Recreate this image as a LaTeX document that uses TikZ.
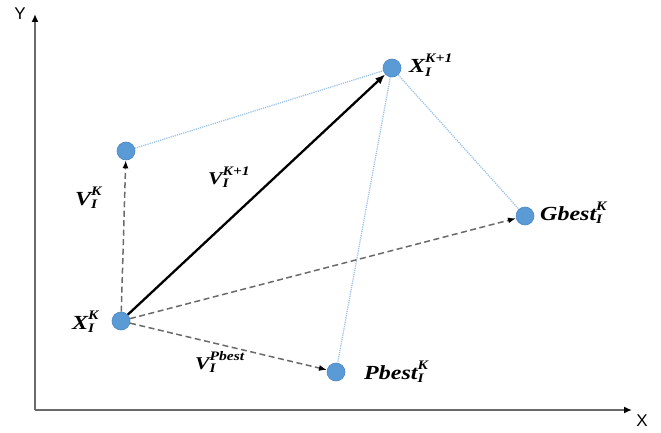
\documentclass[tikz,border=0pt]{standalone}
\usepackage{fontspec}
\setmainfont{Liberation Serif}
\newfontfamily\axfont{Liberation Sans}
\newfontfamily\labfont[FakeStretch=1.2]{Liberation Serif}
\usetikzlibrary{arrows.meta}
\definecolor{dotblue}{HTML}{5B9BD5}
\definecolor{dotedge}{HTML}{4A86C5}
\definecolor{lineblue}{HTML}{9DC3E6}
\definecolor{dashgray}{HTML}{595959}
\newcommand\ssp[2]{\makebox[0pt][l]{\raisebox{-0.17em}{\fontsize{13}{13}\selectfont #1}}\raisebox{0.5em}{\fontsize{13}{13}\selectfont #2}}
\tikzset{
  pt/.style={circle, fill=dotblue, draw=dotedge, line width=0.6pt, minimum size=18pt, inner sep=0pt},
  lab/.style={font=\labfont\fontsize{20}{22}\selectfont\bfseries\itshape, inner sep=0pt},
  axis/.style={draw=dashgray!90, line width=1.8pt, -{Latex[length=8pt,width=7pt,color=black]}},
  dasharrow/.style={draw=dashgray!90, line width=1.5pt, dash pattern=on 6pt off 3.5pt, -{Latex[length=8pt,width=6pt,color=black]}},
  solidarrow/.style={draw=black, line width=2.3pt, -{Latex[length=10pt,width=8pt]}},
  dotline/.style={draw=lineblue, line width=1.3pt, dash pattern=on 1.2pt off 1pt}
}
\begin{document}
\begin{tikzpicture}[x=1pt,y=-1pt]
\useasboundingbox (0,0) rectangle (661,433);
% axes
\coordinate (o) at (35,410);
\coordinate (ytip) at (35,14);
\coordinate (xtip) at (632,410);
\draw[axis] (o) -- (ytip);
\draw[axis] (o) -- (xtip);
\node[font=\axfont\fontsize{17}{17}\selectfont] (ylab) at (20,14) {Y};
\node[font=\axfont\fontsize{17}{17}\selectfont] (xlab) at (642,421) {X};
% points
\node[pt] (xk) at (121,321) {};
\node[pt] (vk) at (126,151) {};
\node[pt] (xk1) at (392,68) {};
\node[pt] (gb) at (525,216) {};
\node[pt] (pb) at (336,372) {};
% blue dotted lines
\draw[dotline] (vk) -- (xk1);
\draw[dotline] (xk1) -- (gb);
\draw[dotline] (xk1) -- (pb);
% dashed arrows
\draw[dasharrow] (xk) -- (vk);
\draw[dasharrow] (xk) -- (gb);
\draw[dasharrow] (xk) -- (pb);
% solid arrow
\draw[solidarrow] (xk) -- (xk1);
% labels
\node[lab, anchor=base west] (lxk) at (72,329) {X\ssp{I}{K}};
\node[lab, anchor=base west] (lvk) at (75,205) {V\ssp{I}{K}};
\node[lab, anchor=base west] (lxk1) at (409,73) {X\ssp{I}{K+1}};
\node[lab, anchor=base west, font=\labfont\fontsize{18}{20}\selectfont\bfseries\itshape] (lvk1) at (208,184) {V\ssp{I}{K+1}};
\node[lab, anchor=base west] (lgb) at (540,220) {Gbest\ssp{I}{K}};
\node[lab, anchor=base west] (lpb) at (364,379) {Pbest\ssp{I}{K}};
\node[lab, anchor=base west, font=\labfont\fontsize{18}{20}\selectfont\bfseries\itshape] (lvp) at (195,369) {V\ssp{I}{Pbest}};
\end{tikzpicture}
\end{document}
